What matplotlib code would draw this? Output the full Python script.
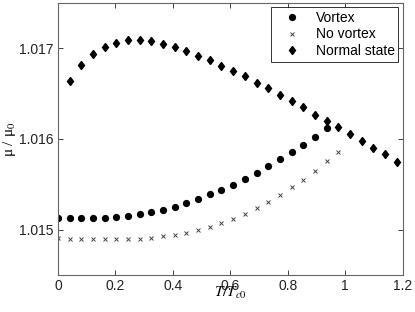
import matplotlib
matplotlib.use('Agg')
import matplotlib.pyplot as plt

# T/Tc0 grid (step ~0.0407)
t_vals = [0.0, 0.041, 0.081, 0.122, 0.163, 0.203, 0.244, 0.285, 0.325, 0.366,
          0.407, 0.447, 0.488, 0.529, 0.569, 0.610, 0.651, 0.692, 0.732, 0.773,
          0.814, 0.854, 0.895, 0.936, 0.976, 1.017, 1.058, 1.098, 1.139, 1.180]

vortex = [1.015134, 1.015129, 1.015126, 1.015126, 1.015131, 1.015140, 1.015153,
          1.015173, 1.015192, 1.015220, 1.015255, 1.015295, 1.015339, 1.015389,
          1.015440, 1.015498, 1.015561, 1.015626, 1.015700, 1.015776, 1.015856,
          1.015938, 1.016027, 1.016118]

no_vortex = [1.014905, 1.014902, 1.014902, 1.014902, 1.014902, 1.014902, 1.014902,
             1.014902, 1.014913, 1.014925, 1.014941, 1.014963, 1.014996, 1.015028,
             1.015069, 1.015120, 1.015170, 1.015236, 1.015309, 1.015383, 1.015466,
             1.015553, 1.015648, 1.015752, 1.015859]

normal = [1.01664, 1.01682, 1.01694, 1.01701, 1.01706, 1.01709, 1.01709, 1.01708,
          1.01705, 1.01701, 1.01697, 1.01692, 1.01687, 1.01681, 1.01675, 1.01669,
          1.01662, 1.01656, 1.01649, 1.01642, 1.01635, 1.01627, 1.01620, 1.01613,
          1.01605, 1.01598, 1.01590, 1.01583, 1.01575]

xticks = [0, 0.2, 0.4, 0.6, 0.8, 1, 1.2]
xticklabels = ['0', '0.2', '0.4', '0.6', '0.8', '1', '1.2']
yticks = [1.015, 1.016, 1.017]
yticklabels = ['1.015', '1.016', '1.017']

plt.rcParams['font.family'] = ['Liberation Sans', 'DejaVu Sans']
plt.rcParams['mathtext.fontset'] = 'stix'

fig = plt.figure(figsize=(4.15, 3.12), dpi=100)
ax = fig.add_axes([0.1398, 0.1186, 0.8304, 0.8718])

ax.plot(t_vals[:len(vortex)], vortex, 'o', color='k', markersize=4.2, label='Vortex')
ax.plot(t_vals[:len(no_vortex)], no_vortex, 'x', color='#444444', markersize=3,
        markeredgewidth=0.7, label='No vortex')
ax.plot(t_vals[1:1 + len(normal)], normal, 'd', color='k', markersize=4.5,
        label='Normal state')

ax.set_xlim(0, 1.2)
ax.set_ylim(1.0145, 1.0175)
ax.set_xticks(xticks)
ax.set_xticklabels(xticklabels)
ax.set_yticks(yticks)
ax.set_yticklabels(yticklabels)
ax.tick_params(direction='in', length=3.5, width=0.6, top=True, right=True,
               labelsize=10, colors='#222222', pad=3)
for sp in ax.spines.values():
    sp.set_color('#666666')
    sp.set_linewidth(0.8)

ax.set_xlabel(r'$T/T_{c0}$', fontsize=11, labelpad=-6)
ax.set_ylabel('μ / μ$_0$', fontsize=11, family='Liberation Serif', labelpad=1)

leg = ax.legend(loc='upper right', fontsize=10, frameon=True, fancybox=False,
                borderaxespad=0.3, handletextpad=0.4, borderpad=0.25,
                labelspacing=0.2, handlelength=2.6)
leg.get_frame().set_edgecolor('k')
leg.get_frame().set_linewidth(0.7)

fig.savefig('out.png', dpi=100)
